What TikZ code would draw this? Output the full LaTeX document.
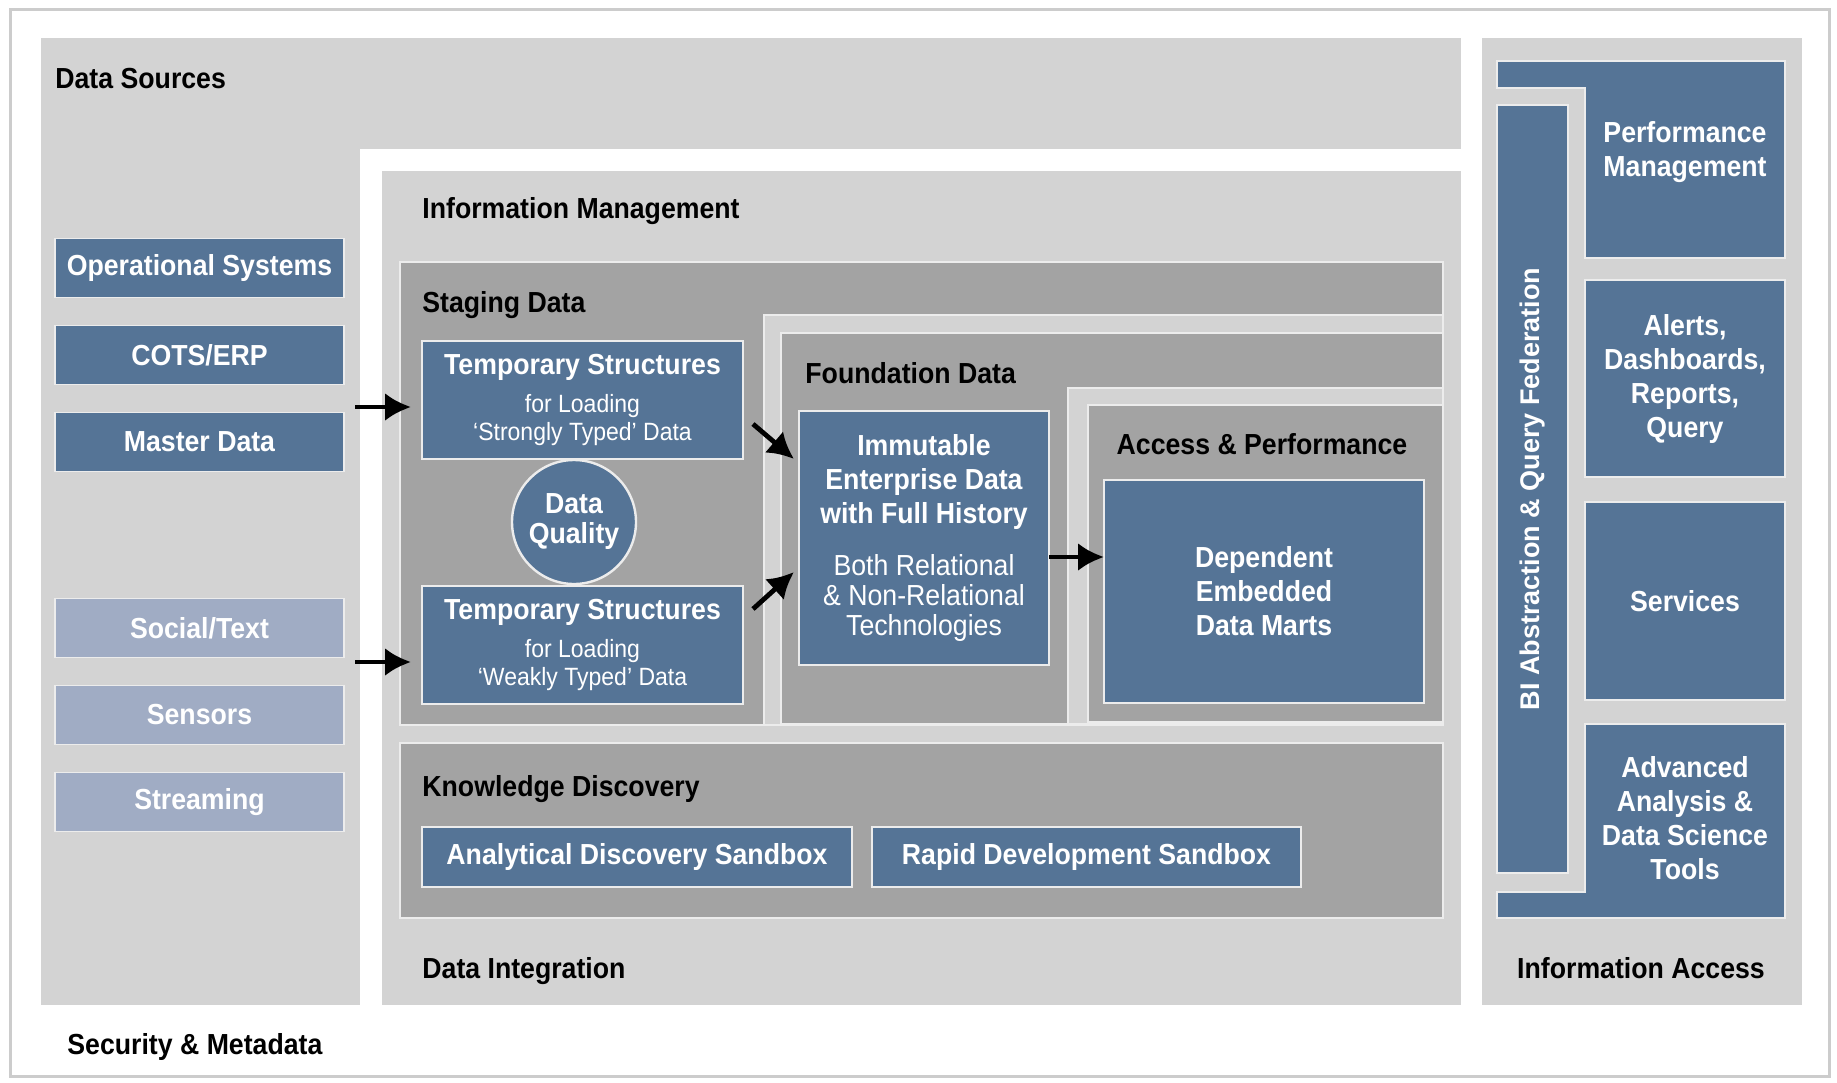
\documentclass[tikz,border=0pt]{standalone}
\usepackage{fontspec}
\setmainfont{Liberation Sans}[FakeStretch=0.92]
\newfontfamily\barfont{Liberation Sans}
\usetikzlibrary{shapes,arrows.meta,calc}

\definecolor{boxblue}{RGB}{85,116,150}
\definecolor{paleblue}{RGB}{160,172,196}
\definecolor{panelgray}{RGB}{211,211,211}
\definecolor{innergray}{RGB}{163,163,163}
\definecolor{edgegray}{RGB}{236,236,236}
\definecolor{framegray}{RGB}{204,204,204}

\tikzset{
  panel/.style={rectangle, fill=panelgray, draw=none, inner sep=0pt, outer sep=0pt},
  innerpanel/.style={rectangle, fill=innergray, draw=edgegray, line width=0.8pt, inner sep=0pt, outer sep=0pt},
  bluebox/.style={rectangle, fill=boxblue, draw=edgegray, line width=0.8pt, inner sep=0pt, outer sep=0pt,
                  text=white, align=center, font=\fontsize{14.5}{17}\selectfont\bfseries},
  palebox/.style={bluebox, fill=paleblue},
  tempbox/.style={bluebox, font=\fontsize{12.5}{14}\selectfont\mdseries},
  heading/.style={anchor=base west, inner sep=0pt, font=\fontsize{14.5}{17}\selectfont\bfseries},
  flow/.style={-{Latex[length=13pt,width=14pt]}, line width=2.4pt}
}

\begin{document}
\begin{tikzpicture}[x=0.5pt, y=-0.5pt]
  \useasboundingbox (0,0) rectangle (1837,1082);
  \draw[framegray, line width=1.5pt] (10,9) rectangle (1829,1076);

      \node[panel,
            minimum width = 710pt,
            minimum height = 483.5pt] (src) at (751,521.5) {};
      \node[heading] (srclbl) at (55,88) {Data Sources};

      \node[rectangle,
            fill = white,
            inner sep = 0pt,
            minimum width = 550.5pt,
            minimum height = 428pt] (imgap) at (910.5,577) {};
      \node[panel,
            minimum width = 539.5pt,
            minimum height = 417pt] (im) at (921.5,588) {};
      \node[heading] (imlbl) at (422,218) {Information Management};
      \node[heading] (dilbl) at (422,978) {Data Integration};

      \node[panel,
            minimum width = 160pt,
            minimum height = 483.5pt] (ia) at (1642,521.5) {};
      \node[heading, anchor=base] (ialbl) at (1641,978) {Information Access};

      \node[heading] (seclbl) at (67,1054) {Security \& Metadata};

      % sources
      \node[bluebox, minimum width = 144.5pt, minimum height = 29.5pt] (ops) at (199.5,268) {Operational Systems};
      \node[bluebox, minimum width = 144.5pt, minimum height = 29.5pt] (cots) at (199.5,355) {COTS/ERP};
      \node[bluebox, minimum width = 144.5pt, minimum height = 29.5pt] (mdm) at (199.5,442) {Master Data};
      \node[palebox, minimum width = 144.5pt, minimum height = 29.5pt] (social) at (199.5,628) {Social/Text};
      \node[palebox, minimum width = 144.5pt, minimum height = 29.5pt] (sensors) at (199.5,715) {Sensors};
      \node[palebox, minimum width = 144.5pt, minimum height = 29.5pt] (stream) at (199.5,802) {Streaming};

      % staging
      \node[innerpanel,
            minimum width = 521.5pt,
            minimum height = 231.5pt] (stg) at (921.5,493.5) {};
      \node[heading] (stglbl) at (422,312) {Staging Data};

      \node[panel, draw=edgegray, line width=0.8pt,
            minimum width = 339.5pt,
            minimum height = 205pt] (fdgap) at (1103.5,520) {};
      \node[innerpanel,
            minimum width = 331pt,
            minimum height = 195.5pt] (fd) at (1112,528.5) {};
      \node[heading] (fdlbl) at (805,383) {Foundation Data};

      \node[panel, draw=edgegray, line width=0.8pt,
            minimum width = 187.5pt,
            minimum height = 168pt] (apgap) at (1255.5,556) {};
      \node[innerpanel,
            minimum width = 177.5pt,
            minimum height = 158.5pt] (ap) at (1265.5,563.5) {};
      \node[heading, anchor=base] (aplbl) at (1262,454) {Access \& Performance};

      \node[tempbox, minimum width = 160.5pt, minimum height = 59pt] (tmpA) at (582.5,400)
        {{\fontsize{14.5}{17}\selectfont\bfseries Temporary Structures}\\[5pt]for Loading\\‘Strongly Typed’ Data};
      \node[tempbox, minimum width = 160.5pt, minimum height = 59pt] (tmpB) at (582.5,645)
        {{\fontsize{14.5}{17}\selectfont\bfseries Temporary Structures}\\[5pt]for Loading\\‘Weakly Typed’ Data};
      \node[bluebox, circle, line width=1.2pt, minimum size = 62pt,
            font=\fontsize{14.5}{15}\selectfont\bfseries] (dq) at (574,522) {Data\\Quality};

      \node[bluebox, minimum width = 125pt, minimum height = 127pt] (imm) at (924,538)
        {Immutable\\Enterprise Data\\with Full History\\[9pt]{\mdseries Both Relational}\\[-2pt]{\mdseries \& Non-Relational}\\[-2pt]{\mdseries Technologies}};
      \node[bluebox, minimum width = 160pt, minimum height = 111.5pt] (marts) at (1264,591.5)
        {Dependent\\Embedded\\Data Marts};

      % knowledge discovery
      \node[innerpanel,
            minimum width = 521.5pt,
            minimum height = 87.5pt] (kd) at (921.5,830.5) {};
      \node[heading] (kdlbl) at (422,796) {Knowledge Discovery};
      \node[bluebox, minimum width = 215pt, minimum height = 30pt] (ads) at (637,857) {Analytical Discovery Sandbox};
      \node[bluebox, minimum width = 214.5pt, minimum height = 30pt] (rds) at (1086.5,857) {Rapid Development Sandbox};

      % information access
      \draw[fill=boxblue, draw=edgegray, line width=0.8pt]
        (1497,61) -- (1785,61) -- (1785,258) -- (1585,258) -- (1585,88) -- (1497,88) -- cycle;
      \node[text=white, align=center, font=\fontsize{14.5}{17}\selectfont\bfseries] (perf) at (1685,152) {Performance\\Management};
      \node[bluebox, minimum width = 100pt, minimum height = 98.5pt] (alerts) at (1685,378.5) {Alerts,\\Dashboards,\\Reports,\\Query};
      \node[bluebox, minimum width = 100pt, minimum height = 99pt] (services) at (1685,601) {Services};
      \draw[fill=boxblue, draw=edgegray, line width=0.8pt]
        (1585,724) -- (1785,724) -- (1785,918) -- (1497,918) -- (1497,892) -- (1585,892) -- cycle;
      \node[text=white, align=center, font=\fontsize{14.5}{17}\selectfont\bfseries] (adv) at (1685,818) {Advanced\\Analysis \&\\Data Science\\Tools};
      \node[bluebox, rotate=90,
            minimum width = 384pt,
            minimum height = 35.5pt,
            font=\barfont\fontsize{13.5}{16}\selectfont\bfseries] (bi) at (1532.5,489) {BI Abstraction \& Query Federation};

      \coordinate (feedA) at (355,407);
      \coordinate (feedB) at (355,662);
      \draw[flow, shorten >=5.5pt] (feedA) -- (feedA -| tmpA.west);
      \draw[flow, shorten >=5.5pt] (feedB) -- (feedB -| tmpB.west);
      \draw[flow] ($(tmpA.east)+(5pt,-12pt)$) -- ($(imm.north west)+(-2.5pt,-24pt)$);
      \draw[flow] ($(tmpB.east)+(5pt,18pt)$) -- ($(imm.south west)+(-2.5pt,46.5pt)$);
      \draw[flow] ([yshift=-9.5pt]imm.east) -- ([yshift=-9.5pt]imm.east -| marts.west);

\end{tikzpicture}
\end{document}
